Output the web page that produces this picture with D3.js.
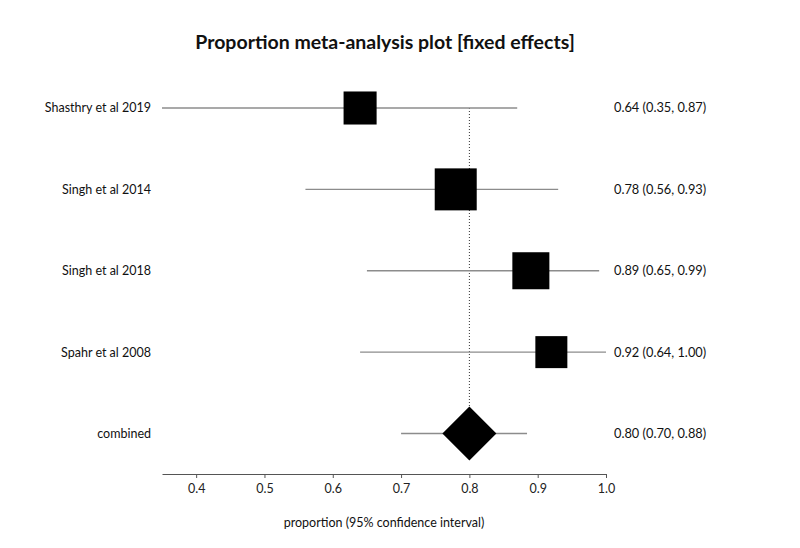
<!DOCTYPE html>
<html><head><meta charset="utf-8">
<script src="https://cdn.jsdelivr.net/npm/d3@7"></script>
<style>body{margin:0;background:#fff;} text{font-family:Lato,"Open Sans",sans-serif;}</style>
</head><body><svg id="c" width="800" height="548"></svg>
<script>
const studies = ["Shasthry et al 2019","Singh et al 2014","Singh et al 2018","Spahr et al 2008"];
const estimates = [0.64, 0.78, 0.89, 0.92];
const lower = [0.35, 0.56, 0.65, 0.64];
const upper = [0.87, 0.93, 0.99, 1.00];
const weights = [20.8, 33.6, 26.1, 19.5];
const pooledLabel = "combined";
const pooled = {est: 0.80, lo: 0.70, hi: 0.88};
const xTicks = [0.4, 0.5, 0.6, 0.7, 0.8, 0.9, 1.0];
const fmt = d3.format(".2f");

const svg = d3.select("#c");
const x = d3.scaleLinear().domain([0.35, 1.0]).range([162, 606]);
const rows = studies.concat([pooledLabel]);
const y = d3.scalePoint().domain(rows).range([108, 433.5]);
const side = d3.scaleSqrt().domain([0, d3.max(weights)]).range([0, 42]);

svg.append("text").attr("x", 385).attr("y", 49).attr("text-anchor", "middle")
  .attr("font-size", 19.5).attr("font-weight", "bold").attr("fill", "#111")
  .text("Proportion meta-analysis plot [fixed effects]");

// reference line
svg.append("line").attr("x1", x(pooled.est)).attr("x2", x(pooled.est))
  .attr("y1", y(studies[0])).attr("y2", y(pooledLabel) - 27)
  .attr("stroke", "#333").attr("stroke-width", 1).attr("stroke-dasharray", "1,2");

const g = svg.append("g");
studies.forEach((s, i) => {
  const cy = y(s);
  g.append("line").attr("x1", x(lower[i])).attr("x2", x(upper[i])).attr("y1", cy).attr("y2", cy)
    .attr("stroke", "#8c8c8c").attr("stroke-width", 1.3);
  const w = side(weights[i]);
  g.append("rect").attr("x", x(estimates[i]) - w/2).attr("y", cy - w/2).attr("width", w).attr("height", w)
    .attr("fill", "#000");
  g.append("text").attr("x", 151).attr("y", cy).attr("dy", "0.35em").attr("text-anchor", "end")
    .attr("font-size", 12.5).attr("fill", "#111").text(s);
  g.append("text").attr("x", 614).attr("y", cy).attr("dy", "0.35em")
    .attr("font-size", 12.8).attr("fill", "#111")
    .text(`${fmt(estimates[i])} (${fmt(lower[i])}, ${fmt(upper[i])})`);
});

const py = y(pooledLabel);
g.append("line").attr("x1", x(pooled.lo)).attr("x2", x(pooled.hi) + 3).attr("y1", py).attr("y2", py)
  .attr("stroke", "#8c8c8c").attr("stroke-width", 1.3);
const cx = x(pooled.est);
g.append("path").attr("d", `M${cx-27},${py} L${cx},${py-27} L${cx+27},${py} L${cx},${py+27} Z`).attr("fill", "#000");
g.append("text").attr("x", 151).attr("y", py).attr("dy", "0.35em").attr("text-anchor", "end")
  .attr("font-size", 12.5).attr("fill", "#111").text(pooledLabel);
g.append("text").attr("x", 614).attr("y", py).attr("dy", "0.35em")
  .attr("font-size", 12.8).attr("fill", "#111")
  .text(`${fmt(pooled.est)} (${fmt(pooled.lo)}, ${fmt(pooled.hi)})`);

// axis
const ax = svg.append("g").attr("transform", "translate(0,474)")
  .call(d3.axisBottom(x).tickValues(xTicks).tickFormat(d3.format(".1f")).tickSize(4).tickPadding(6).tickSizeOuter(0));
ax.select(".domain").attr("stroke", "#555");
ax.selectAll(".tick line").attr("stroke", "#555");
ax.selectAll("text").attr("font-size", 12.5).attr("fill", "#222").style("font-family", "Lato,'Open Sans',sans-serif");

svg.append("text").attr("x", 384).attr("y", 527).attr("text-anchor", "middle")
  .attr("font-size", 12.5).attr("fill", "#111").text("proportion (95% confidence interval)");
</script></body></html>
